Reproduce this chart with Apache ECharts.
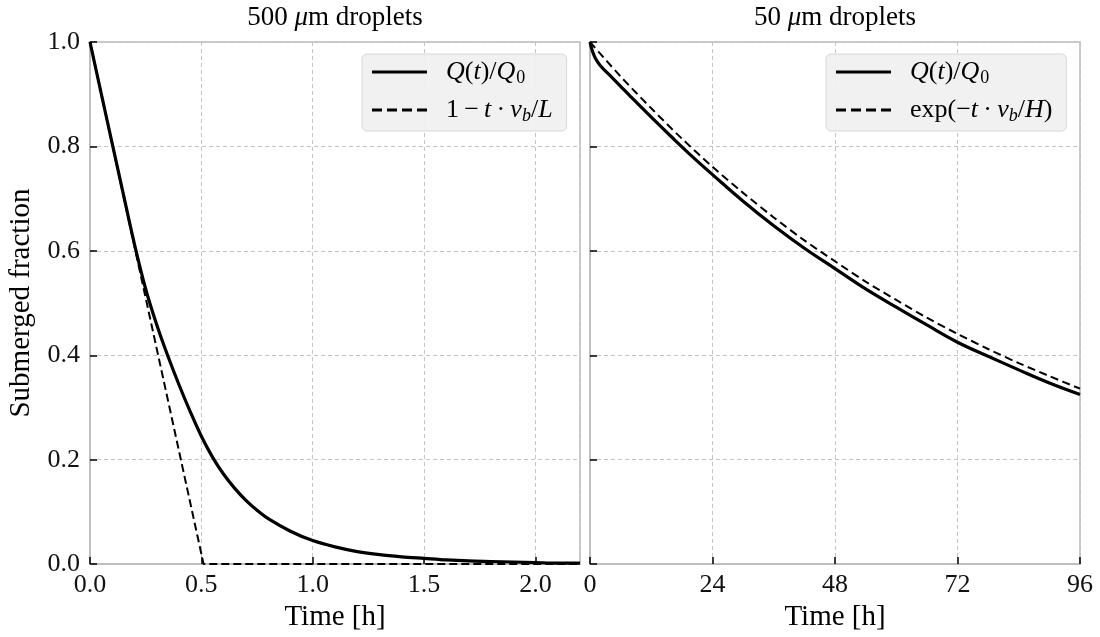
<!DOCTYPE html>
<html><head><meta charset="utf-8">
<script src="https://cdn.jsdelivr.net/npm/echarts@6/dist/echarts.min.js"></script>
<style>html,body{margin:0;padding:0;background:#fff}#c{width:1100px;height:637px}</style>
</head><body><div id="c"></div>
<script>
// Left panel: 500 um droplets (time in hours)
const leftT   = [0,0.05,0.1,0.15,0.2,0.25,0.3,0.35,0.4,0.45,0.5,0.55,0.6,0.65,0.7,0.75,0.8,0.9,1.0,1.1,1.2,1.3,1.4,1.5,1.6,1.7,1.8,1.9,2.0,2.1,2.2];
const leftQ   = [1.0,0.902,0.805,0.708,0.612,0.527,0.458,0.398,0.343,0.292,0.245,0.205,0.172,0.145,0.122,0.103,0.087,0.063,0.045,0.033,0.024,0.018,0.014,0.011,0.008,0.006,0.005,0.004,0.003,0.002,0.002];
const leftLinT = [0,0.51,2.2];
const leftLinV = [1.0,0.0,0.0];
// Right panel: 50 um droplets
const rightT  = [0,0.25,0.5,1,2,4,6,8,12,16,20,24,30,36,42,48,54,60,66,72,78,84,90,96];
const rightQ  = [1.0,0.99,0.982,0.97,0.955,0.935,0.915,0.895,0.856,0.818,0.781,0.746,0.695,0.648,0.605,0.566,0.527,0.492,0.458,0.425,0.398,0.372,0.347,0.325];
const rightExpT = [0,6,12,18,24,30,36,42,48,54,60,66,72,78,84,90,96];
const rightExpV = [1.0,0.934,0.873,0.815,0.761,0.711,0.664,0.620,0.580,0.541,0.506,0.472,0.441,0.412,0.385,0.360,0.336];
const yTicks = [0,0.2,0.4,0.6,0.8,1.0];
const leftXTicks = [0,0.5,1.0,1.5,2.0];
const rightXTicks = [0,24,48,72,96];

const FONT = '"Liberation Serif","DejaVu Serif",serif';
const zip = (a,b)=>a.map((v,i)=>[v,b[i]]);
const LF = 26;
const rich = {
  i:{fontFamily:FONT,fontStyle:'italic',fontSize:LF,color:'#000',lineHeight:30},
  n:{fontFamily:FONT,fontSize:LF,color:'#000',lineHeight:30},
  sub:{fontFamily:FONT,fontSize:18,color:'#000',padding:[12,0,0,1]},
  isub:{fontFamily:FONT,fontStyle:'italic',fontSize:18,color:'#000',padding:[12,0,0,0]}
};
const S = '\u2009';
const labelMap = {
  qL:'{i|Q}{n|(}{i|t}{n|)/}{i|Q}{sub|0}',
  lin:'{n|1'+S+'−'+S+'}{i|t}{n|'+S+'·'+S+'}{i|v}{isub|b}{n|/}{i|L}',
  qR:'{i|Q}{n|(}{i|t}{n|)/}{i|Q}{sub|0}',
  ex:'{n|exp(−}{i|t}{n|'+S+'·'+S+'}{i|v}{isub|b}{n|/}{i|H}{n|)}'
};
const solidIcon = 'path://M0,0h55v3h-55z';
const dashIcon = 'path://M0,0h10v3h-10zM15,0h10v3h-10zM30,0h10v3h-10zM45,0h10v3h-10z';
const axisCommon = {
  axisLine:{show:true,lineStyle:{color:'#bbb',width:1.5}},
  axisTick:{show:true,inside:true,length:7,lineStyle:{color:'#000',width:1.5}},
  splitLine:{show:true,lineStyle:{color:'#c4c4c4',type:[4,3],width:1}},
  axisLabel:{color:'#111',fontFamily:FONT,fontSize:26,margin:8}
};
const nameStyle = {fontFamily:FONT,fontSize:29,color:'#000'};
const legendCommon = {
  top:54, orient:'vertical', itemWidth:55, itemHeight:3, itemGap:10, symbolKeepAspect:false,
  backgroundColor:'rgba(240,240,240,0.95)', borderColor:'#d8d8d8', borderWidth:1, borderRadius:5,
  padding:[5,14,6,10],
  formatter:n=>labelMap[n],
  textStyle:{fontFamily:FONT,fontSize:LF,color:'#000',rich:rich,padding:[0,0,0,14]}
};
const titleStyle = {fontFamily:FONT,fontSize:27,fontWeight:'normal',color:'#000',rich:{i:{fontFamily:FONT,fontStyle:'italic',fontSize:27,color:'#000'}}};
const option = {
  animation:false,
  backgroundColor:'#fff',
  title:[
    {text:'500 {i|μ}m droplets',left:335,textAlign:'center',top:4,padding:0,textStyle:titleStyle},
    {text:'50 {i|μ}m droplets',left:835,textAlign:'center',top:4,padding:0,textStyle:titleStyle}
  ],
  grid:[
    {left:90,width:490,top:42,height:523,show:true,borderColor:'#bbb',borderWidth:1.5,backgroundColor:'transparent'},
    {left:590,width:490,top:42,height:523,show:true,borderColor:'#bbb',borderWidth:1.5,backgroundColor:'transparent'}
  ],
  legend:[
    Object.assign({},legendCommon,{left:362,data:[{name:'qL',icon:solidIcon},{name:'lin',icon:dashIcon}]}),
    Object.assign({},legendCommon,{left:826,data:[{name:'qR',icon:solidIcon},{name:'ex',icon:dashIcon}]})
  ],
  xAxis:[
    Object.assign({},axisCommon,{gridIndex:0,type:'value',min:0,max:2.2,interval:0.5,
      name:'Time [h]',nameLocation:'middle',nameGap:37,nameTextStyle:nameStyle,
      axisLabel:Object.assign({},axisCommon.axisLabel,{showMaxLabel:false,formatter:v=>leftXTicks.includes(+v.toFixed(2))?v.toFixed(1):''})}),
    Object.assign({},axisCommon,{gridIndex:1,type:'value',min:0,max:96,interval:24,
      name:'Time [h]',nameLocation:'middle',nameGap:37,nameTextStyle:nameStyle,
      axisLabel:Object.assign({},axisCommon.axisLabel,{formatter:v=>rightXTicks.includes(v)?String(v):''})})
  ],
  yAxis:[
    Object.assign({},axisCommon,{gridIndex:0,type:'value',min:0,max:1,interval:0.2,
      name:'Submerged fraction',nameLocation:'middle',nameGap:54,nameTextStyle:nameStyle,
      axisLabel:Object.assign({},axisCommon.axisLabel,{margin:10,formatter:v=>yTicks.some(t=>Math.abs(t-v)<1e-6)?v.toFixed(1):''})}),
    Object.assign({},axisCommon,{gridIndex:1,type:'value',min:0,max:1,interval:0.2,
      axisLabel:{show:false}})
  ],
  series:[
    {name:'qL',type:'line',xAxisIndex:0,yAxisIndex:0,data:zip(leftT,leftQ),smooth:0.3,symbol:'none',lineStyle:{color:'#000',width:3.2},itemStyle:{color:'#000'},z:3},
    {name:'lin',type:'line',xAxisIndex:0,yAxisIndex:0,data:zip(leftLinT,leftLinV),symbol:'none',lineStyle:{color:'#000',width:2,type:[8,4]},itemStyle:{color:'#000'},z:2},
    {name:'qR',type:'line',xAxisIndex:1,yAxisIndex:1,data:zip(rightT,rightQ),smooth:0.4,symbol:'none',lineStyle:{color:'#000',width:3.2},itemStyle:{color:'#000'},z:3},
    {name:'ex',type:'line',xAxisIndex:1,yAxisIndex:1,data:zip(rightExpT,rightExpV),smooth:0.3,symbol:'none',lineStyle:{color:'#000',width:2,type:[8,4.5]},itemStyle:{color:'#000'},z:2}
  ]
};
const chart = echarts.init(document.getElementById('c'),null,{renderer:'canvas'});
chart.setOption(option);
</script></body></html>
